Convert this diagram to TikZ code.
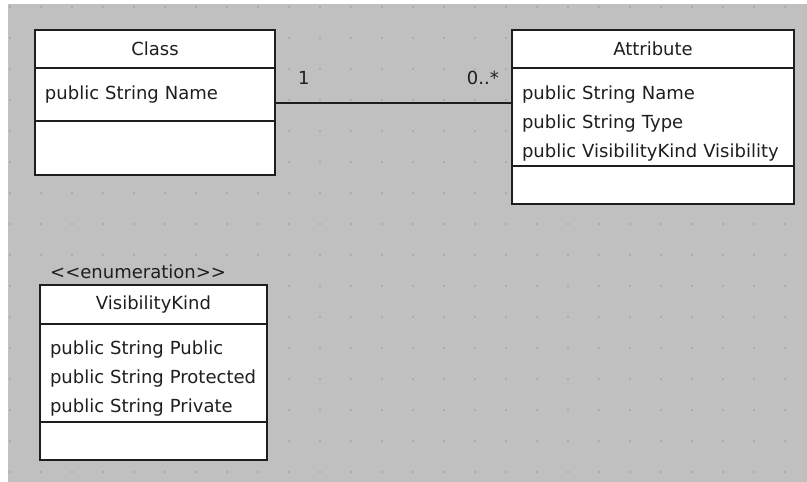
\documentclass[tikz,border=0pt]{standalone}
\usepackage{fontspec}
\setmainfont{DejaVu Sans}
\usepackage{tikz}
\usetikzlibrary{calc,positioning}
\definecolor{bggray}{RGB}{192,192,192}
\definecolor{dotgray}{RGB}{172,172,172}
\definecolor{ink}{RGB}{30,30,30}

\begin{document}
\begin{tikzpicture}[x=1pt,y=-1pt,
  every node/.style={font=\fontsize{18}{29}\selectfont, text=ink},
  umltitle/.style={draw=ink, line width=2pt, fill=white, outer sep=0pt, inner xsep=10pt, inner ysep=0pt, align=center, text width=#1},
  umlpart/.style={draw=ink, line width=2pt, fill=white, outer sep=0pt, inner xsep=10pt, inner ysep=0pt, align=left, text width=#1},
  lowered/.style={execute at begin node={\rule{0pt}{#1}}},
  mult/.style={inner sep=0pt}]
\useasboundingbox (0,0) rectangle (807,482);
\fill[white] (0,0) rectangle (807,482);
\fill[bggray] (8,4) rectangle (807,482);
\foreach \x in {10,41,...,800}
  \foreach \y in {7,38,...,480}
    \fill[dotgray] (\x-1,\y-1) rectangle (\x+1,\y+1);

\node[umltitle=220, minimum height=38] (classtitle) at (155,49) {Class};
\node[umlpart=220, minimum height=53, below=0pt of classtitle] (classattr) {public String Name};
\node[umlpart=220, minimum height=54, below=0pt of classattr] (classops) {};

\node[umltitle=262, minimum height=38] (attrtitle) at (653,49) {Attribute};
\node[umlpart=262, lowered=26pt, minimum height=98, below=0pt of attrtitle] (attrattr) {public String Name\\public String Type\\public VisibilityKind Visibility};
\node[umlpart=262, minimum height=38, below=0pt of attrattr] (attrops) {};

\node[umltitle=207, minimum height=39] (enumtitle) at (153.5,304.5) {VisibilityKind};
\node[umlpart=207, lowered=24pt, minimum height=98, below=0pt of enumtitle] (enumattr) {public String Public\\public String Protected\\public String Private};
\node[umlpart=207, minimum height=38, below=0pt of enumattr] (enumops) {};
\node[inner sep=0pt, anchor=south west] (stereo) at ($(enumtitle.north west)+(10,-6)$) {{<}{<}enumeration{>}{>}};

\coordinate (assoc) at (0,103);
\coordinate (endA) at (classattr.east |- assoc);
\coordinate (endB) at (attrattr.west |- assoc);
\draw[ink, line width=2pt] (endA) -- (endB);
\node[mult, anchor=south west, above right=18pt and 23pt of endA] (multA) {1};
\node[mult, anchor=south east, above left=18pt and 13pt of endB] (multB) {0..*};
\end{tikzpicture}
\end{document}
